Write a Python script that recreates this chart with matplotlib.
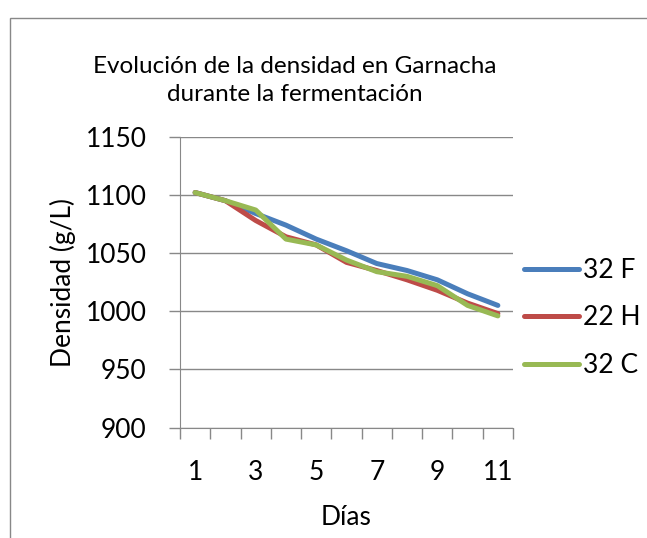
import matplotlib.pyplot as plt
from matplotlib.lines import Line2D
from matplotlib.patches import Rectangle

dias = [1, 2, 3, 4, 5, 6, 7, 8, 9, 10, 11]
dens_32F = [1102, 1095, 1084, 1074, 1062, 1052, 1041, 1035, 1027, 1015, 1005]
dens_22H = [1102, 1095, 1078, 1064, 1057, 1042, 1035, 1027, 1018, 1007, 998]
dens_32C = [1102, 1095, 1087, 1062, 1057, 1044, 1034, 1030, 1022, 1005, 996]
etiquetas = ['32 F', '22 H', '32 C']
colores = ['#4A7EBB', '#BE4B48', '#98B954']

plt.rcParams['font.family'] = ['Lato', 'DejaVu Sans']
fs = 19

fig = plt.figure(figsize=(6.47, 5.38), dpi=100)
ax = fig.add_axes([0.2782, 0.2052, 0.5147, 0.5407])

# chart border (Excel style box)
fig.patches.append(Rectangle((9.5 / 647, -0.1), 1.1, 1 - 18 / 538 + 0.1,
                             transform=fig.transFigure, fill=False,
                             edgecolor='#888888', lw=1))

for serie, lab, col in zip([dens_32F, dens_22H, dens_32C], etiquetas, colores):
    ax.plot(dias, serie, color=col, lw=3.6, label=lab, solid_capstyle='round')

ax.set_xlim(0.5, 11.5)
ax.set_ylim(900, 1150)
ax.set_yticks(range(900, 1151, 50))
ax.set_xticks([1, 3, 5, 7, 9, 11])
ax.set_xticks([x + 0.5 for x in range(0, 12)], minor=True)
ax.tick_params(axis='x', which='major', length=0, pad=23, labelsize=fs)
ax.tick_params(axis='x', which='minor', length=8, color='#888888', width=1)
ax.tick_params(axis='y', length=8, color='#888888', width=1, labelsize=fs, pad=16)
ax.grid(axis='y', color='#888888', lw=1)
ax.set_axisbelow(True)
for s in ['top', 'right']:
    ax.spines[s].set_visible(False)
for s in ['left', 'bottom']:
    ax.spines[s].set_color('#888888')

ax.set_xlabel('Días', fontsize=fs, labelpad=15)
ax.set_ylabel('Densidad (g/L)', fontsize=fs, labelpad=7)
fig.text(0.455, 0.85, 'Evolución de la densidad en Garnacha\ndurante la fermentación',
         ha='center', va='center', fontsize=17.5, linespacing=1.4)

handles = [Line2D([], [], color=c, lw=3.6, solid_capstyle='round') for c in colores]
fig.legend(handles, etiquetas, loc='center left', bbox_to_anchor=(0.773, 0.409),
           frameon=False, fontsize=fs, handlelength=2.1, handletextpad=0.15,
           labelspacing=0.85)

fig.savefig('out.png', dpi=100)
